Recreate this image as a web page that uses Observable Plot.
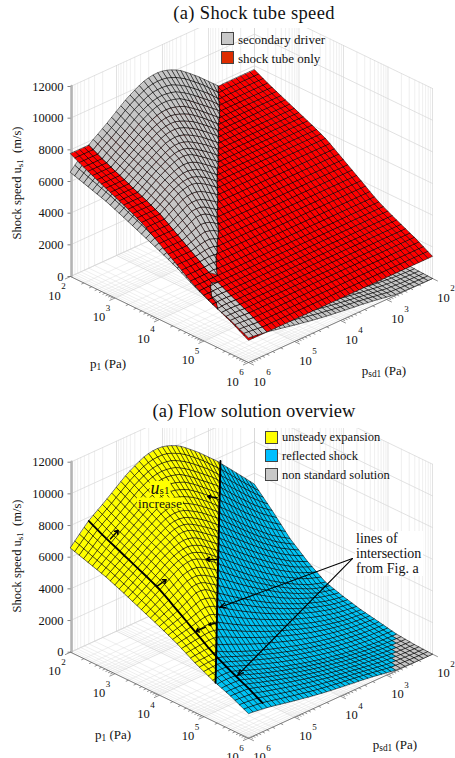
<!DOCTYPE html>
<html><head><meta charset="utf-8">
<script src="https://cdn.jsdelivr.net/npm/d3@7"></script>
<script src="https://cdn.jsdelivr.net/npm/@observablehq/plot@0.6"></script>
<style>
html,body{margin:0;padding:0;background:#fff}
#page{position:relative;width:455px;height:758px;overflow:hidden;font-family:"Liberation Serif",serif;color:#111}
.t{position:absolute;white-space:nowrap;line-height:1}
.t sub{font-size:.72em;vertical-align:-.3em;line-height:0}
.c{transform:translate(-50%,-50%)}
.sw{position:absolute;width:11px;height:11px;border:1px solid #444;box-sizing:content-box}
</style></head><body><div id="page"></div>
<script>
const zTicks=[0,2000,4000,6000,8000,10000,12000];
const decades=[2,3,4,5,6];
const minorTicks=[100,200,300,400,500,600,700,800,900,1000,2000,3000,4000,5000,6000,7000,8000,9000,10000,20000,30000,40000,50000,60000,70000,80000,90000,100000,200000,300000,400000,500000,600000,700000,800000,900000,1000000];
// shock speed without secondary driver, by p1 row (10^2 .. 10^6 Pa)
const tubeSpeed=[7750,7600,7450,7300,7170,7040,6910,6780,6650,6520,6390,6260,6130,6000,5860,5720,5570,5380,5180,4980,4780,4580,4380,4180,3980,3780,3570,3370,3190,3030,2880,2730,2590,2450,2310,2170,2040,1880,1720,1560,1400];
// shock speed with secondary driver: rows p1 10^2..10^6, columns psd1 10^6..10^2
const driverSpeed=[
[6570,6870,7170,7470,7750,7970,8180,8390,8610,8840,9070,9300,9530,9720,9890,10050,10190,10270,10320,10330,10300,10220,10110,9970,9800,9580,9350,9110,8870,8600,8330,8060,7790,7480,7170,6860,6550,6240,5930,5610,5300],
[6478,6763,7048,7335,7600,7823,8033,8243,8463,8690,8918,9145,9368,9550,9713,9858,9975,10035,10060,10048,10000,9893,9760,9600,9414,9193,8963,8725,8488,8215,7938,7663,7385,7083,6783,6480,6180,5885,5595,5300,5018],
[6385,6655,6925,7200,7450,7675,7885,8095,8315,8540,8765,8990,9205,9380,9535,9665,9760,9800,9800,9765,9700,9565,9410,9230,9028,8805,8575,8340,8105,7830,7545,7265,6980,6685,6395,6100,5810,5530,5260,4990,4735],
[6293,6548,6803,7065,7300,7528,7738,7948,8168,8390,8613,8835,9043,9210,9358,9473,9545,9565,9540,9483,9400,9238,9060,8860,8642,8418,8188,7955,7723,7445,7153,6868,6575,6288,6008,5720,5440,5175,4925,4680,4453],
[6200,6440,6680,6930,7170,7380,7590,7800,8020,8240,8460,8680,8880,9040,9180,9280,9330,9330,9280,9200,9100,8910,8710,8490,8255,8030,7800,7570,7340,7060,6760,6470,6170,5890,5620,5340,5070,4820,4590,4370,4170],
[6108,6338,6570,6808,7040,7250,7458,7668,7883,8098,8310,8520,8713,8858,8978,9055,9080,9050,8975,8873,8750,8553,8348,8125,7889,7650,7410,7168,6928,6650,6358,6075,5785,5515,5253,4983,4723,4488,4268,4058,3865],
[6015,6235,6460,6685,6910,7120,7325,7535,7745,7955,8160,8360,8545,8675,8775,8830,8830,8770,8670,8545,8400,8195,7985,7760,7523,7270,7020,6765,6515,6240,5955,5680,5400,5140,4885,4625,4375,4155,3945,3745,3560],
[5923,6133,6350,6563,6780,6990,7193,7403,7608,7813,8010,8200,8378,8493,8573,8605,8580,8490,8365,8218,8050,7838,7623,7395,7157,6890,6630,6363,6103,5830,5553,5285,5015,4765,4518,4268,4028,3823,3623,3433,3255],
[5830,6030,6240,6440,6650,6860,7060,7270,7470,7670,7860,8040,8210,8310,8370,8380,8330,8210,8060,7890,7700,7480,7260,7030,6790,6510,6240,5960,5690,5420,5150,4890,4630,4390,4150,3910,3680,3490,3300,3120,2950],
[5710,5908,6115,6313,6520,6730,6933,7143,7338,7528,7708,7875,8025,8105,8138,8113,8028,7885,7720,7538,7342,7113,6885,6648,6405,6133,5870,5600,5338,5078,4818,4568,4318,4088,3858,3630,3410,3230,3050,2880,2720],
[5590,5785,5990,6185,6390,6600,6805,7015,7205,7385,7555,7710,7840,7900,7905,7845,7725,7560,7380,7185,6983,6745,6510,6265,6020,5755,5500,5240,4985,4735,4485,4245,4005,3785,3565,3350,3140,2970,2800,2640,2490],
[5470,5663,5865,6058,6260,6470,6678,6888,7073,7243,7403,7545,7655,7695,7673,7578,7423,7235,7040,6833,6624,6378,6135,5883,5635,5378,5130,4880,4633,4393,4153,3923,3693,3483,3273,3070,2870,2710,2550,2400,2260],
[5350,5540,5740,5930,6130,6340,6550,6760,6940,7100,7250,7380,7470,7490,7440,7310,7120,6910,6700,6480,6265,6010,5760,5500,5250,5000,4760,4520,4280,4050,3820,3600,3380,3180,2980,2790,2600,2450,2300,2160,2030],
[5223,5410,5605,5795,6000,6198,6403,6608,6787,6935,7065,7165,7215,7193,7110,6963,6764,6545,6328,6100,5880,5630,5385,5133,4888,4648,4415,4183,3952,3733,3515,3305,3095,2908,2720,2540,2360,2220,2085,1958,1843],
[5095,5280,5470,5660,5860,6055,6255,6455,6633,6770,6880,6950,6960,6895,6780,6615,6408,6180,5955,5720,5495,5250,5010,4765,4525,4295,4070,3845,3623,3415,3210,3010,2810,2635,2460,2290,2120,1990,1870,1755,1655],
[4968,5150,5335,5525,5720,5913,6108,6303,6479,6605,6695,6735,6705,6598,6450,6268,6052,5815,5583,5340,5110,4870,4635,4398,4163,3943,3725,3508,3294,3098,2905,2715,2525,2363,2200,2040,1880,1760,1655,1553,1468],
[4840,5020,5200,5390,5570,5770,5960,6150,6325,6440,6510,6520,6450,6300,6120,5920,5695,5450,5210,4960,4725,4490,4260,4030,3800,3590,3380,3170,2965,2780,2600,2420,2240,2090,1940,1790,1640,1530,1440,1350,1280],
[4713,4875,5038,5208,5380,5560,5743,5923,6089,6178,6213,6175,6063,5898,5713,5510,5293,5060,4833,4598,4377,4155,3940,3725,3510,3315,3120,2925,2734,2563,2395,2228,2063,1925,1788,1650,1514,1415,1333,1253,1190],
[4585,4730,4875,5025,5180,5350,5525,5695,5853,5915,5915,5830,5675,5495,5305,5100,4890,4670,4455,4235,4028,3820,3620,3420,3220,3040,2860,2680,2503,2345,2190,2035,1885,1760,1635,1510,1388,1300,1225,1155,1100],
[4458,4585,4713,4843,4980,5140,5308,5468,5617,5653,5618,5485,5288,5093,4898,4690,4488,4280,4078,3873,3679,3485,3300,3115,2930,2765,2600,2435,2272,2128,1985,1843,1708,1595,1483,1370,1262,1185,1118,1058,1010],
[4330,4440,4550,4660,4780,4930,5090,5240,5380,5390,5320,5140,4900,4690,4490,4280,4085,3890,3700,3510,3330,3150,2980,2810,2640,2490,2340,2190,2040,1910,1780,1650,1530,1430,1330,1230,1135,1070,1010,960,920],
[4193,4288,4383,4478,4580,4708,4840,4958,5055,5025,4930,4753,4530,4333,4143,3948,3764,3583,3405,3228,3060,2893,2735,2578,2420,2280,2140,2003,1865,1745,1625,1508,1398,1305,1213,1123,1038,980,928,883,845],
[4055,4135,4215,4295,4380,4485,4590,4675,4730,4660,4540,4365,4160,3975,3795,3615,3443,3275,3110,2945,2790,2635,2490,2345,2200,2070,1940,1815,1690,1580,1470,1365,1265,1180,1095,1015,940,890,845,805,770],
[3918,3983,4048,4113,4180,4263,4340,4393,4405,4295,4150,3978,3790,3618,3448,3283,3122,2968,2815,2663,2520,2378,2245,2113,1980,1860,1740,1628,1515,1415,1315,1223,1133,1055,978,908,843,800,763,728,695],
[3780,3830,3880,3930,3980,4040,4090,4110,4080,3930,3760,3590,3420,3260,3100,2950,2800,2660,2520,2380,2250,2120,2000,1880,1760,1650,1540,1440,1340,1250,1160,1080,1000,930,860,800,745,710,680,650,620],
[3615,3658,3700,3743,3780,3825,3845,3815,3748,3605,3448,3290,3133,2985,2838,2700,2560,2430,2303,2173,2053,1933,1820,1710,1600,1500,1398,1305,1215,1133,1050,978,905,843,780,725,677,645,618,590,565],
[3450,3485,3520,3555,3570,3610,3610,3540,3415,3280,3135,2990,2845,2710,2575,2450,2320,2200,2085,1965,1855,1745,1640,1540,1440,1350,1255,1170,1090,1015,940,875,810,755,700,650,608,580,555,530,510],
[3285,3313,3340,3368,3370,3425,3345,3190,3083,2955,2823,2690,2558,2435,2313,2200,2080,1970,1868,1758,1658,1558,1460,1370,1280,1200,1113,1035,965,898,830,773,715,668,620,575,539,515,493,470,455],
[3120,3140,3160,3180,3190,3180,3030,2880,2750,2630,2510,2390,2270,2160,2050,1950,1840,1740,1650,1550,1460,1370,1280,1200,1120,1050,970,900,840,780,720,670,620,580,540,500,470,450,430,410,400],
[2980,3005,3024,3038,3030,2960,2830,2708,2597,2480,2363,2248,2132,2025,1919,1820,1715,1620,1530,1435,1348,1263,1178,1100,1024,957,883,815,757,700,644,595,548,510,473,435,407,388,370,353,343],
[2840,2870,2888,2895,2880,2780,2670,2555,2443,2330,2215,2105,1993,1890,1788,1690,1590,1500,1410,1320,1235,1155,1075,1000,928,863,795,730,673,620,568,520,475,440,405,370,343,325,310,295,285],
[2700,2735,2752,2753,2730,2630,2520,2403,2290,2180,2068,1963,1854,1755,1657,1560,1465,1380,1290,1205,1123,1048,973,900,832,769,708,645,589,540,492,445,403,370,338,305,279,263,250,238,228],
[2560,2600,2615,2610,2590,2480,2370,2250,2136,2030,1920,1820,1715,1620,1525,1430,1340,1260,1170,1090,1010,940,870,800,735,675,620,560,505,460,415,370,330,300,270,240,215,200,190,180,170],
[2448,2475,2483,2474,2450,2348,2243,2130,2022,1923,1818,1723,1624,1533,1444,1353,1268,1190,1108,1030,955,888,823,755,694,637,583,525,474,430,387,343,303,273,243,213,189,174,163,153,143],
[2335,2350,2350,2338,2310,2215,2115,2010,1908,1815,1715,1625,1533,1445,1363,1275,1195,1120,1045,970,900,835,775,710,653,598,545,490,443,400,358,315,275,245,215,185,163,148,135,125,115],
[2223,2225,2218,2202,2170,2083,1988,1890,1794,1708,1613,1528,1442,1358,1282,1198,1123,1050,983,910,845,783,728,665,612,559,508,455,412,370,329,288,248,218,188,158,137,122,108,98,88],
[2110,2100,2085,2065,2040,1950,1860,1770,1680,1600,1510,1430,1350,1270,1200,1120,1050,980,920,850,790,730,680,620,570,520,470,420,380,340,300,260,220,190,160,130,110,95,80,70,60],
[1970,1955,1934,1909,1880,1798,1715,1633,1550,1475,1393,1318,1245,1170,1105,1033,968,905,850,788,733,678,633,578,533,485,438,390,348,305,263,220,178,153,128,103,85,73,60,53,45],
[1830,1810,1783,1753,1720,1645,1570,1495,1420,1350,1275,1205,1140,1070,1010,945,885,830,780,725,675,625,585,535,495,450,405,360,315,270,225,180,135,115,95,75,60,50,40,35,30],
[1690,1665,1632,1597,1560,1493,1425,1358,1290,1225,1158,1093,1035,970,915,858,803,755,710,663,618,573,538,493,458,415,373,330,283,235,188,140,93,78,63,48,35,28,20,18,15],
[1550,1520,1480,1440,1400,1340,1280,1220,1160,1100,1040,980,930,870,820,770,720,680,640,600,560,520,490,450,420,380,340,300,250,200,150,100,50,40,30,20,10,5,0,0,0]
];
// annotations, anchored in (log10 p1, speed) on the psd1 = 10^6 plane
const smallArrowFrom=[[2.899,8380],[3.932,6770],[5.296,14230],[5.296,10315],[5.258,6250],[5.034,5700]];
const smallArrowTo=[[3.072,9140],[4.150,7490],[5.085,14020],[5.056,10025],[5.108,5950],[4.824,5160]];
const calloutFrom=[[8.336,14520],[8.336,14520]];
const calloutTo=[[5.348,7370],[5.752,3625]];

const K=190/12000, N=40;
const px=(u,w)=>70+178*u+184*w;
const py=(u,w,z)=>276+86*u-84*w-z*K;
const uOf=lp=>(lp-2)/4, wOf=ls=>(6-ls)/4;
const FF="Liberation Serif";

function clipPoly(pts,sign){
  const out=[];
  for(let k=0;k<pts.length;k++){
    const a=pts[k],b=pts[(k+1)%pts.length];
    const da=a.d*sign,db=b.d*sign;
    if(da>=0) out.push(a);
    if((da>0&&db<0)||(da<0&&db>0)){
      const t=da/(da-db);
      out.push({u:a.u+(b.u-a.u)*t,w:a.w+(b.w-a.w)*t,z:a.z+(b.z-a.z)*t,d:0});
    }
  }
  return out;
}
function corners(i,j,zf,df){
  return [[i,j],[i+1,j],[i+1,j+1],[i,j+1]].map(([a,b])=>({u:a/N,w:b/N,z:zf(a,b),d:df(a,b)}));
}
const cells=[];
for(let i=0;i<N;i++)for(let j=0;j<N;j++)cells.push([i,j]);
cells.sort((a,b)=>(a[0]-a[1])-(b[0]-b[1]));

const zG=(a,b)=>driverSpeed[a][b], zR=(a)=>tubeSpeed[a];
function buildTop(){
  const v=[];let id=0;
  const add=(poly,fill)=>{if(poly.length<3)return;id++;for(const p of poly)v.push({id,fill,x:px(p.u,p.w),y:py(p.u,p.w,p.z)});};
  const GRAY="#c6c6c6",RED="#ff0000";
  const dF=(a,b)=>zG(a,b)-zR(a);
  for(const [i,j] of cells){
    const g=corners(i,j,zG,dF), r=corners(i,j,zR,dF);
    const ds=g.map(p=>p.d);
    if(ds.every(d=>d>=0)){add(r,RED);add(g,GRAY);}
    else if(ds.every(d=>d<=0)){add(g,GRAY);add(r,RED);}
    else{add(clipPoly(g,-1),GRAY);add(clipPoly(r,1),RED);add(clipPoly(g,1),GRAY);add(clipPoly(r,-1),RED);}
  }
  return v;
}
function buildBottom(){
  const v=[];let id=0;
  const add=(poly,fill)=>{if(poly.length<3)return;id++;for(const p of poly)v.push({id,fill,x:px(p.u,p.w),y:py(p.u,p.w,p.z)});};
  const YEL="#ffff00",BLU="#00c4f5",GRAY="#c6c6c6";
  const dF=(a,b)=>32.6-(a+b);
  for(const [i,j] of cells){
    const g=corners(i,j,zG,dF);
    if(i+j+1>71.2){add(g,GRAY);continue;}
    const ds=g.map(p=>p.d);
    if(ds.every(d=>d>=0))add(g,YEL);
    else if(ds.every(d=>d<=0))add(g,BLU);
    else{add(clipPoly(g,1),YEL);add(clipPoly(g,-1),BLU);}
  }
  return v;
}

function gridData(){
  const lines=[];let id=0;
  const seg=(a,b,major)=>{id++;lines.push({id,major,x:a[0],y:a[1]},{id,major,x:b[0],y:b[1]});};
  const P=(u,w,z)=>[px(u,w),py(u,w,z)];
  for(const t of minorTicks){
    const l=Math.log10(t),major=Number.isInteger(+l.toFixed(6));
    const u=uOf(l),w=wOf(l);
    seg(P(0,w,0),P(0,w,12000),major);
    seg(P(u,1,0),P(u,1,12000),major);
    seg(P(0,w,0),P(1,w,0),major);
    seg(P(u,0,0),P(u,1,0),major);
  }
  for(const z of zTicks){
    seg(P(0,0,z),P(0,1,z),true);
    seg(P(0,1,z),P(1,1,z),true);
  }
  return lines;
}
const gridLines=gridData();

function baseMarks(){
  const minorG=gridLines.filter(d=>!d.major), majorG=gridLines.filter(d=>d.major);
  const ticksL=minorTicks.map(t=>{const l=Math.log10(t),u=uOf(l),M=Number.isInteger(+l.toFixed(6)),s=M?.03:.014;return {x1:px(u,0),y1:py(u,0,0),x2:px(u,-s),y2:py(u,-s,0)};});
  const ticksR=minorTicks.map(t=>{const l=Math.log10(t),w=wOf(l),M=Number.isInteger(+l.toFixed(6)),s=M?.03:.014;return {x1:px(1,w),y1:py(1,w,0),x2:px(1+s,w),y2:py(1+s,w,0)};});
  const zt=zTicks.map(z=>({z,x1:px(0,0),y1:py(0,0,z)}));
  const leftLab=decades.map(d=>({d,x:px(uOf(d),0),y:py(uOf(d),0,0)}));
  const rightLab=decades.map(d=>({d,x:px(1,wOf(d)),y:py(1,wOf(d),0)}));
  const txt={fontFamily:FF,fontSize:12.5,fill:"#111"};
  const sup={fontFamily:FF,fontSize:9,fill:"#111"};
  return [
    Plot.line(minorG,{x:"x",y:"y",z:"id",stroke:"#e2e2e2",strokeWidth:.55}),
    Plot.line(majorG,{x:"x",y:"y",z:"id",stroke:"#d6d6d6",strokeWidth:.7}),
    Plot.line(zTicks.map(z=>({x:px(0,.006),y:py(0,.006,z)})),{x:"x",y:"y",stroke:"#b4b4b4",strokeWidth:2.4}),
    Plot.line([0,1].map(u=>({x:px(u,0),y:py(u,0,0)})),{x:"x",y:"y",stroke:"#666",strokeWidth:.8}),
    Plot.line([0,1].map(w=>({x:px(1,w),y:py(1,w,0)})),{x:"x",y:"y",stroke:"#666",strokeWidth:.8}),
    Plot.link(ticksL,{x1:"x1",y1:"y1",x2:"x2",y2:"y2",stroke:"#666",strokeWidth:.7}),
    Plot.link(ticksR,{x1:"x1",y1:"y1",x2:"x2",y2:"y2",stroke:"#666",strokeWidth:.7}),
    Plot.link(zt,{x1:"x1",y1:"y1",x2:d=>d.x1-3,y2:"y1",stroke:"#666",strokeWidth:.8}),
    Plot.text(zt,{x:"x1",y:"y1",text:d=>String(d.z),dx:-7,textAnchor:"end",...txt}),
    Plot.text(leftLab,{x:"x",y:"y",text:()=>"10",dx:-16,dy:19,...txt}),
    Plot.text(leftLab,{x:"x",y:"y",text:d=>String(d.d),dx:-7,dy:10,...sup}),
    Plot.text(rightLab,{x:"x",y:"y",text:()=>"10",dx:11,dy:19,...txt}),
    Plot.text(rightLab,{x:"x",y:"y",text:d=>String(d.d),dx:20,dy:10,...sup})
  ];
}
function surfaceMark(v){
  return Plot.line(v,{x:"x",y:"y",z:"id",fill:"fill",stroke:"#000",strokeWidth:.55,curve:"linear-closed"});
}
function chart(top,bottom,marks){
  const h=bottom-top;
  return Plot.plot({width:455,height:h,margin:0,
    x:{domain:[0,455],range:[0,455],axis:null},
    y:{domain:[top,bottom],range:[0,h],axis:null},
    color:{type:"identity"},
    style:{overflow:"hidden",background:"transparent"},
    marks});
}
const page=document.getElementById("page");
const c1=chart(28,395,[...baseMarks(),surfaceMark(buildTop())]);
c1.style.position="absolute";c1.style.top="28px";c1.style.left="0";
page.appendChild(c1);

const line1=tubeSpeed.slice(0,40).map((z,i)=>({x:px(i/N,.1),y:py(i/N,.1,z)}));
const line2=tubeSpeed.slice(0,33).map((z,i)=>({x:px(i/N,.815-i/N),y:py(i/N,.815-i/N,z)}));
line2.push({x:px(.815,0),y:py(.815,0,2500)});
const toP=([lp,z])=>({x:px(uOf(lp),0),y:py(uOf(lp),0,z)});
const arrows=(from,to)=>from.map((f,i)=>{const a=toP(f),b=toP(to[i]);return {x1:a.x,y1:a.y,x2:b.x,y2:b.y};});
const c2=chart(428-375.7,758-375.7,[...baseMarks(),surfaceMark(buildBottom()),
  Plot.line(line1,{x:"x",y:"y",stroke:"#000",strokeWidth:1.9}),
  Plot.line(line2,{x:"x",y:"y",stroke:"#000",strokeWidth:1.9}),
  Plot.arrow(arrows(smallArrowFrom,smallArrowTo),{x1:"x1",y1:"y1",x2:"x2",y2:"y2",bend:0,headLength:8,headAngle:70,stroke:"#000",strokeWidth:1.5}),
  Plot.arrow(arrows(calloutFrom,calloutTo),{x1:"x1",y1:"y1",x2:"x2",y2:"y2",bend:0,headLength:9,headAngle:40,stroke:"#000",strokeWidth:1.1})
]);
c2.style.position="absolute";c2.style.top="428px";c2.style.left="0";
page.appendChild(c2);

function T(html,x,y,size,cls,extra){
  const e=document.createElement("div");e.className="t "+(cls||"");e.innerHTML=html;
  e.style.left=x+"px";e.style.top=y+"px";e.style.fontSize=size+"px";
  if(extra)Object.assign(e.style,extra);page.appendChild(e);return e;
}
T("(a) Shock tube speed",254,13,18.5,"c",{letterSpacing:".35px"});
T("(a) Flow solution overview",254,411,18.5,"c",{letterSpacing:".08px"});
const rot={transform:"translate(-50%,-50%) rotate(-90deg)"};
T("Shock speed u<sub>s1</sub>&nbsp; (m/s)",17,183,12.5,"",rot);
T("Shock speed u<sub>s1</sub>&nbsp; (m/s)",17,556,12.5,"",rot);
T("p<sub>1</sub> (Pa)",108,363,13,"c");
T("p<sub>1</sub> (Pa)",113,734,13,"c");
T("p<sub>sd1</sub> (Pa)",384,370,13,"c");
T("p<sub>sd1</sub> (Pa)",395,744,13,"c");
function swatch(x,y,c){const s=document.createElement("div");s.className="sw";s.style.left=x+"px";s.style.top=y+"px";s.style.background=c;page.appendChild(s);}
swatch(221,32,"#c8c8c8");T("secondary driver",238,32.5,13);
swatch(221,51,"#dd2c00");T("shock tube only",238,52,13);
swatch(265,431,"#ffff00");T("unsteady expansion",282,431,12.5);
swatch(265,449,"#00bfff");T("reflected shock",282,450,12.5);
swatch(265,468,"#c8c8c8");T("non standard solution",282,469,12.5);
T("lines of<br>intersection<br>from Fig. a",355,531,14,"",{lineHeight:"15px",background:"#fff",padding:"0 2px 0 1px"});
T("<i style='font-size:18px'>u</i><span style='font-size:11px'>s1</span>",160,488,13,"c",{background:"#ffff00",padding:"0 1px",lineHeight:"14px",height:"14px"});
T("increase",160,503,13.5,"c",{background:"#ffff00",padding:"0 1px",lineHeight:"11px",height:"11px"});
</script></body></html>
